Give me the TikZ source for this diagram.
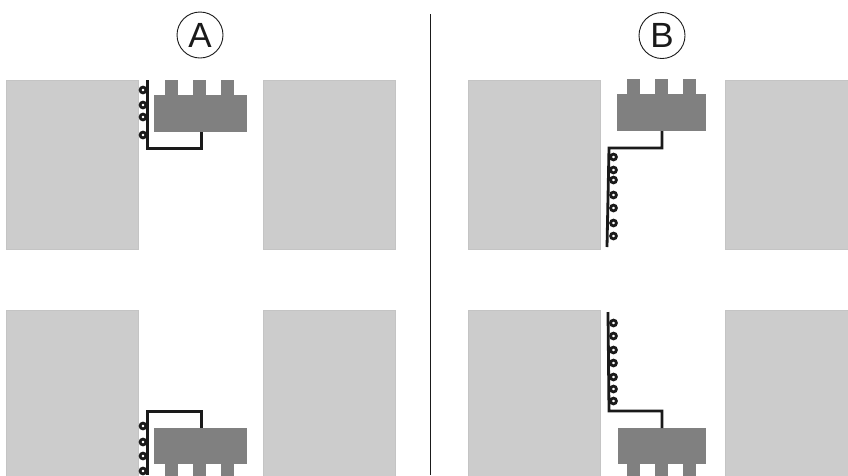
\documentclass[tikz,border=0pt]{standalone}
\usepackage{fontspec}
\setmainfont{Liberation Sans}
\tikzset{
  car/.style={fill=carlight,draw=cardraw,line width=0.4pt,minimum width=132pt,inner sep=0pt,anchor=north west},
  blockbody/.style={fill=blockgray,draw=none,minimum width=93pt,minimum height=37pt,inner sep=0pt},
  pinbox/.style={fill=blockgray,draw=none,minimum width=13pt,minimum height=15pt,inner sep=0pt},
  wire/.style={draw=wirecol,line width=2.8pt,line join=miter},
  coil/.style={draw=wirecol,line width=2.8pt,circle,minimum size=5.8pt,inner sep=0pt,outer sep=0pt},
  badge/.style={draw=wirecol,line width=0.9pt,circle,minimum size=46pt,inner sep=0pt,font=\fontsize{35}{35}\selectfont,text=wirecol}
}
\definecolor{carlight}{HTML}{CCCCCC}
\definecolor{cardraw}{HTML}{C4C4C4}
\definecolor{blockgray}{HTML}{808080}
\definecolor{wirecol}{HTML}{1A1A1A}
\begin{document}
\begin{tikzpicture}[x=1pt,y=-1pt]
\useasboundingbox (0,0) rectangle (848,475);
\fill[white] (0,0) rectangle (848,475);
% divider
\coordinate (divt) at (430,14);
\coordinate (divb) at (430,475);
\draw[draw=wirecol,line width=0.9pt] (divt) -- (divb);
% badges
\node[badge] (labA) at (200,35) {A};
\node[badge] (labB) at (662,35.5) {B};
% buildings
\node[car,minimum height=169pt] (a1) at (6,80) {};
\node[car,minimum height=169pt] (a2) at (263,80) {};
\node[car,minimum height=169pt] (b1) at (468,80) {};
\node[car,minimum height=169pt] (b2) at (725,80) {};
\begin{scope}
\clip (0,0) rectangle (848,475);
\node[car,minimum height=180pt] (a3) at (6,310) {};
\node[car,minimum height=180pt] (a4) at (263,310) {};
\node[car,minimum height=180pt] (b3) at (468,310) {};
\node[car,minimum height=180pt] (b4) at (725,310) {};
% blocks
\node[blockbody] (ba) at (200.5,113.5) {};
\node[blockbody,minimum width=89pt] (bb) at (661.5,112.5) {};
\node[blockbody,minimum height=36pt] (bc) at (200.5,446) {};
\node[blockbody,minimum width=88pt,minimum height=36pt] (bd) at (662,446) {};
\foreach \x in {171.5,199.5,227.5}{
  \node[pinbox] at (\x,87.5) {};
  \node[pinbox] at (\x,470) {};
}
\foreach \x in {633,661.5,689}{
  \node[pinbox] at (\x,86.5) {};
  \node[pinbox] at (\x,470) {};
}
% coils A
\foreach \y in {90,105,117,135}{
  \node[coil] at (143,\y) {};
}
\foreach \y in {426,442,456,471}{
  \node[coil] at (143,\y) {};
}
% coils B
\foreach \y in {157,170,180,195,208,223,236}{
  \node[coil] at (613.5,\y) {};
}
\foreach \y in {323,336,350,363,377,389,401}{
  \node[coil] at (613.5,\y) {};
}
% wires
\coordinate (wa0) at (147.6,80);
\coordinate (wa1) at (147.6,148.6);
\coordinate (wa2) at (201.4,148.6);
\coordinate (wa3) at (201.4,132);
\draw[wire] (wa0) -- (wa1) -- (wa2) -- (wa3);
\coordinate (wc0) at (147.6,475);
\coordinate (wc1) at (147.6,411.3);
\coordinate (wc2) at (201.4,411.3);
\coordinate (wc3) at (201.4,428);
\draw[wire] (wc0) -- (wc1) -- (wc2) -- (wc3);
\coordinate (wb0) at (607,247);
\coordinate (wb1) at (609,148);
\coordinate (wb2) at (662,148);
\coordinate (wb3) at (662,131);
\draw[wire] (wb0) -- (wb1) -- (wb2) -- (wb3);
\coordinate (wd0) at (608,312);
\coordinate (wd1) at (609,411);
\coordinate (wd2) at (662,411);
\coordinate (wd3) at (662,428);
\draw[wire] (wd0) -- (wd1) -- (wd2) -- (wd3);
\end{scope}
\end{tikzpicture}
\end{document}
